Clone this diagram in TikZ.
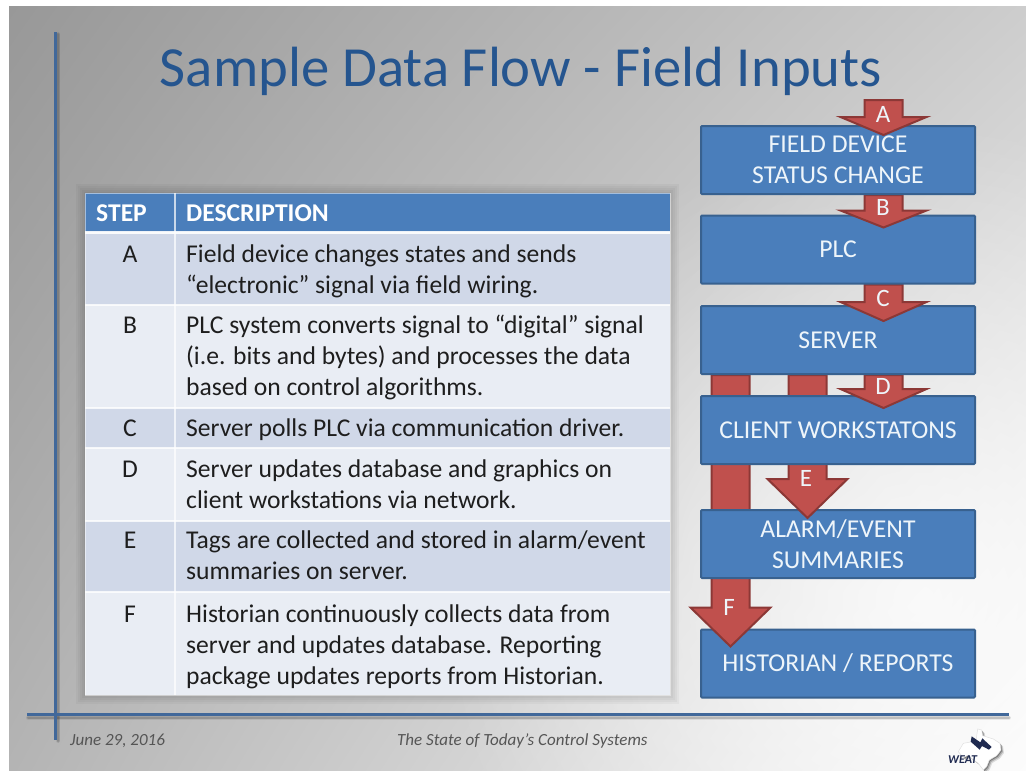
\documentclass[tikz,border=0pt]{standalone}
\usepackage{fontspec}
\setmainfont{Carlito}
\usetikzlibrary{calc,shadings,fadings}
\definecolor{boxfill}{HTML}{4A7EBB}
\definecolor{boxline}{HTML}{38618F}
\definecolor{arrfill}{HTML}{C0504D}
\definecolor{arrline}{HTML}{8C3836}
\definecolor{rowdark}{HTML}{D0D8E8}
\definecolor{rowlight}{HTML}{E9EDF4}
\definecolor{titleblue}{HTML}{25558F}
\definecolor{rulerblue}{HTML}{41689A}
\definecolor{tabletext}{HTML}{1E1E1E}
\definecolor{boxtext}{HTML}{EEF5FA}
\definecolor{foottext}{HTML}{555555}
\definecolor{logonavy}{HTML}{1F2A50}
\tikzfading[name=glowfade,inner color=transparent!25,outer color=transparent!100]
\pgfdeclarelayer{l6}\pgfdeclarelayer{lF}\pgfdeclarelayer{l5}\pgfdeclarelayer{lE}
\pgfdeclarelayer{l4}\pgfdeclarelayer{lD}\pgfdeclarelayer{l3}\pgfdeclarelayer{lC}
\pgfdeclarelayer{l2}\pgfdeclarelayer{lB}\pgfdeclarelayer{l1}\pgfdeclarelayer{lA}
\pgfsetlayers{main,l6,lF,l5,lE,l4,lD,l3,lC,l2,lB,l1,lA}
\tikzset{
  flowbox/.style={draw=boxline,fill=boxfill,line width=2pt,rounded corners=1pt,minimum width=274pt,minimum height=68pt,
    inner sep=0pt,align=center,text=boxtext,font=\fontsize{25.7}{31}\selectfont},
  blockarrow/.style={draw=arrline,fill=arrfill,line width=2pt,line join=miter},
  arrowletter/.style={text=boxtext,inner sep=0pt,font=\fontsize{25}{30}\selectfont},
  cellbody/.style={anchor=north west,inner sep=0pt,align=left,text=tabletext,font=\fontsize{25.6}{31}\selectfont},
  cellstep/.style={anchor=base,inner sep=0pt,text=tabletext,font=\fontsize{25.6}{31}\selectfont},
  cellhead/.style={anchor=base west,inner sep=0pt,text=white,font=\fontsize{25.6}{31}\selectfont\bfseries},
  foot/.style={anchor=base west,inner sep=0pt,text=foottext,font=\fontsize{17}{20}\selectfont\itshape},
}
% source anchor, target node, centre x, half shaft, half head, wing offset, tip depth
\newcommand\arrowblock[7]{%
  \path (#3,0 |- #1) coordinate (as);
  \path (#3,0 |- #2.north) coordinate (at);
  \draw[blockarrow] ($(as)+(-#4,0)$) -- ($(at)+(-#4,-#6)$) -- ($(at)+(-#5,-#6)$) -- ($(at)+(0,#7)$)
    -- ($(at)+(#5,-#6)$) -- ($(at)+(#4,-#6)$) -- ($(as)+(#4,0)$) -- cycle;}
\newcommand\rowcell[4]{%
  \node[cellstep] (st#1) at (130,#2) {#1};
  \node[cellbody] (de#1) at (186,#2-21.7) {\strut #3};}
\begin{document}
\begin{tikzpicture}[x=1pt,y=-1pt]
\useasboundingbox (0,0) rectangle (1026,771);
\fill[white] (0,0) rectangle (1026,771);
% slide background
\shade[shading=bilinear interpolation,
  upper left={rgb,255:red,152;green,152;blue,152},
  upper right={rgb,255:red,205;green,205;blue,205},
  lower left={rgb,255:red,180;green,180;blue,180},
  lower right={rgb,255:red,250;green,250;blue,250}] (9,6) rectangle (1026,771);
\begin{scope}
\clip (9,6) rectangle (1026,771);
\fill[white,path fading=glowfade] (920,600) circle (480);
\end{scope}
% rulers
\foreach \s/\o in {1/0.07,2/0.08,3/0.10}{
  \draw[line width=5pt-\s pt,black,opacity=\o,line cap=round] (28,717.5) -- (1009,717.5);
  \draw[line width=5pt-\s pt,black,opacity=\o,line cap=round] (58,34) -- (58,741);
}
\draw[rulerblue,line width=3pt] (27,714.5) -- (1009,714.5);
\draw[rulerblue,line width=3pt] (55.5,32) -- (55.5,740);
% title
\node[anchor=base,inner sep=0pt,text=titleblue,font=\fontsize{56.7}{60}\selectfont] (title) at (521,86) {Sample Data Flow - Field Inputs};
% table shadow
\foreach \e in {9,7,5,3,1}{
  \fill[black,opacity=0.03] (85-\e,193-\e) rectangle (670+\e,695+\e);
}
% table
\fill[boxfill] (85,193) rectangle (670,232);
\fill[rowdark] (85,232) rectangle (670,305);
\fill[rowlight] (85,305) rectangle (670,408);
\fill[rowdark] (85,408) rectangle (670,448);
\fill[rowlight] (85,448) rectangle (670,521);
\fill[rowdark] (85,521) rectangle (670,592);
\fill[rowlight] (85,592) rectangle (670,695);
\draw[white,line width=1pt,opacity=.5] (85,193) rectangle (670,695);
\draw[white,line width=3pt,opacity=.9] (85,232) -- (670,232);
\foreach \y in {305,408,448,521,592}{\draw[white,line width=1.2pt,opacity=.8] (85,\y) -- (670,\y);}
\draw[white,line width=1.2pt,opacity=.7] (175,193) -- (175,695);
\node[cellhead] (hstep) at (96,221) {STEP};
\node[cellhead] (hdesc) at (186,221) {DESCRIPTION};
\rowcell{A}{262}{Field device changes states and sends\\“electronic” signal via field wiring.}{}
\rowcell{B}{333}{PLC system converts signal to “digital” signal\\(i.e. bits and bytes) and processes the data\\based on control algorithms.}{}
\rowcell{C}{436}{Server polls PLC via communication driver.}{}
\rowcell{D}{477}{Server updates database and graphics on\\client workstations via network.}{}
\rowcell{E}{548}{Tags are collected and stored in alarm/event\\summaries on server.}{}
\rowcell{F}{622}{Historian continuously collects data from\\server and updates database. Reporting\\package updates reports from Historian.}{}
% flow boxes
\begin{pgfonlayer}{l1}\node[flowbox] (field) at (838,160) {FIELD DEVICE\\STATUS CHANGE};\end{pgfonlayer}
\begin{pgfonlayer}{l2}\node[flowbox] (plc) at (838,249.5) {PLC};\end{pgfonlayer}
\begin{pgfonlayer}{l3}\node[flowbox] (server) at (838,340) {SERVER};\end{pgfonlayer}
\begin{pgfonlayer}{l4}\node[flowbox] (client) at (838,430) {CLIENT WORKSTATONS};\end{pgfonlayer}
\begin{pgfonlayer}{l5}\node[flowbox] (alarm) at (838,544) {ALARM/EVENT\\SUMMARIES};\end{pgfonlayer}
\begin{pgfonlayer}{l6}\node[flowbox] (hist) at (838,663.5) {HISTORIAN / REPORTS};\end{pgfonlayer}
\coordinate (feed) at (883.5,100);
% block arrows
\begin{pgfonlayer}{lA}\arrowblock{feed}{field}{883.5}{19}{43}{8}{10}\node[arrowletter] (la) at (883,114) {A};\end{pgfonlayer}
\begin{pgfonlayer}{lB}\arrowblock{field.south}{plc}{883.5}{19}{43}{4}{13}\node[arrowletter] (lb) at (883,207) {B};\end{pgfonlayer}
\begin{pgfonlayer}{lC}\arrowblock{plc.south}{server}{883.5}{19}{43}{3}{16}\node[arrowletter] (lc) at (883,298) {C};\end{pgfonlayer}
\begin{pgfonlayer}{lD}\arrowblock{server.south}{client}{883.5}{19}{43}{6}{13}\node[arrowletter] (ld) at (883,386) {D};\end{pgfonlayer}
\begin{pgfonlayer}{lE}\arrowblock{server.south}{alarm}{807.5}{19}{40}{30}{9}\node[arrowletter] (le) at (806,478) {E};\end{pgfonlayer}
\begin{pgfonlayer}{lF}\arrowblock{server.south}{hist}{730.5}{19}{40}{21}{18}\node[arrowletter] (lf) at (729,607) {F};\end{pgfonlayer}
% footer
\node[foot] (date) at (70,745) {June 29, 2016};
\node[foot] (foottitle) at (397,745) {The State of Today’s Control Systems};
% logo
\begin{scope}[shift={(940,715)},x=0.3333pt,y=-0.3333pt]
\def\texas{(113,42) -- (125,45) -- (128,62) -- (160,72) -- (180,85) -- (183,105) -- (170,122) -- (148,135) -- (140,155) -- (130,165) -- (115,145) -- (95,130) -- (85,120) -- (70,128) -- (55,110) -- (70,85) -- (108,78) -- cycle}
\foreach \d/\o in {9/0.12,6/0.2,3/0.3}{
  \fill[black,opacity=\o,shift={(\d,\d)}] \texas;
}
\fill[white,draw=black!12,line width=.5pt] \texas;
\fill[logonavy] (95,64) -- (121,82) -- (127,70) -- (155,96) -- (147,104) -- (126,93) -- (119,104) -- (92,80) -- cycle;
\end{scope}
\node[anchor=base west,inner sep=0pt,text=logonavy,font=\fontsize{12}{13}\selectfont\bfseries\itshape] (weat) at (948,763) {WEAT};
\end{tikzpicture}
\end{document}
